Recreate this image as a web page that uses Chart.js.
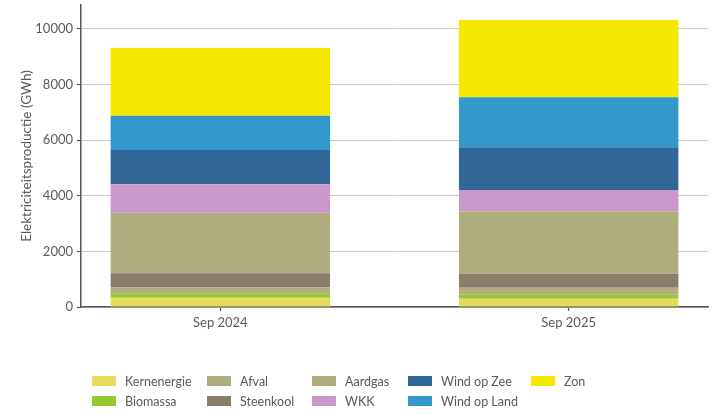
<!DOCTYPE html>
<html>
<head>
<meta charset="utf-8">
<title>Elektriciteitsproductie</title>
<script src="https://cdn.jsdelivr.net/npm/chart.js@4.4.1/dist/chart.umd.min.js"></script>
<style>
  html, body { margin: 0; padding: 0; background: #fff; }
  #wrap { position: relative; width: 719px; height: 414px; }
  #legend {
    position: absolute; left: 0; top: 0; width: 719px; height: 414px;
    pointer-events: none; font-family: Lato, sans-serif; font-size: 12.5px; color: #5a5a5a;
  }
  .lg-item { position: absolute; display: flex; align-items: center; white-space: nowrap; height: 10px; }
  .lg-box { width: 24px; height: 10px; margin-right: 9px; flex: none; }
</style>
</head>
<body>
<div id="wrap">
  <canvas id="chart" width="719" height="414"></canvas>
  <div id="legend"></div>
</div>
<script>
/* ── Data (GWh) ─────────────────────────────────────────── */
const categories = ['Sep 2024', 'Sep 2025'];
const kernenergie = [330, 300];
const biomassa = [145, 145];
const afval = [230, 250];
const steenkool = [505, 505];
const aardgas = [2180, 2230];
const wkk = [1020, 780];
const windOpZee = [1235, 1535];
const windOpLand = [1235, 1800];
const zon = [2435, 2780];
const yTicks = [0, 2000, 4000, 6000, 8000, 10000];

/* ── Series: name, values, colour ───────────────────────── */
const series = [
  ['Kernenergie', kernenergie, '#e6dc5c'],
  ['Biomassa', biomassa, '#96c832'],
  ['Afval', afval, '#b0ae7e'],
  ['Steenkool', steenkool, '#8a7d6c'],
  ['Aardgas', aardgas, '#b0ae7e'],
  ['WKK', wkk, '#ca99ca'],
  ['Wind op Zee', windOpZee, '#306698'],
  ['Wind op Land', windOpLand, '#3398cc'],
  ['Zon', zon, '#f5e700'],
];

const FONT = 'Lato, sans-serif';
const TEXT = '#5a5a5a';

const chart = new Chart(document.getElementById('chart'), {
  type: 'bar',
  data: {
    datasets: series.map(([label, values, color]) => ({
      label,
      data: values.map((v, i) => ({ x: i, y: v })),
      backgroundColor: color,
      borderWidth: 0,
      barPercentage: 0.63,
      categoryPercentage: 1,
    })),
  },
  options: {
    responsive: false,
    animation: false,
    layout: { padding: { left: 0, right: 11, top: 5, bottom: 77 } },
    plugins: { legend: { display: false }, tooltip: { enabled: false } },
    scales: {
      x: {
        type: 'linear',
        stacked: true,
        min: -0.4,
        max: 1.4,
        offset: false,
        afterBuildTicks: s => { s.ticks = categories.map((_, i) => ({ value: i })); },
        afterFit: s => { s.height = 30; s.paddingLeft = 0; s.paddingRight = 0; },
        grid: { offset: false, drawOnChartArea: false, drawTicks: true, tickLength: 4, tickColor: '#555', tickWidth: 1.2 },
        border: { display: true, color: '#555', width: 1.5 },
        ticks: {
          padding: 4,
          maxRotation: 0,
          color: TEXT,
          font: { family: FONT, size: 13 },
          callback: v => categories[v] ?? '',
        },
      },
      y: {
        stacked: true,
        min: 0,
        max: 10860,
        afterBuildTicks: s => { s.ticks = yTicks.map(v => ({ value: v })); },
        afterFit: s => { s.width = 81; s.paddingTop = 0; s.paddingBottom = 0; },
        grid: { color: '#cccccc', lineWidth: 1, tickLength: 4, tickColor: '#555', tickWidth: 1.2 },
        border: { display: true, color: '#555', width: 1.5 },
        ticks: { padding: 4, color: TEXT, font: { family: FONT, size: 13 }, callback: v => String(v) },
        title: {
          display: true,
          text: 'Elektriciteitsproductie (GWh)',
          color: TEXT,
          font: { family: FONT, size: 13.5 },
          padding: { top: 19, bottom: 0 },
        },
      },
    },
  },
});

/* ── HTML legend in column-major grid ───────────────────── */
const colLeft = [92, 207, 312, 408, 531];
const rowTop = [376, 396];
const legendEl = document.getElementById('legend');
chart.data.datasets.forEach((ds, i) => {
  const item = document.createElement('div');
  item.className = 'lg-item';
  item.style.left = colLeft[Math.floor(i / 2)] + 'px';
  item.style.top = rowTop[i % 2] + 'px';
  const box = document.createElement('span');
  box.className = 'lg-box';
  box.style.background = ds.backgroundColor;
  const txt = document.createElement('span');
  txt.textContent = ds.label;
  item.appendChild(box);
  item.appendChild(txt);
  legendEl.appendChild(item);
});
</script>
</body>
</html>
